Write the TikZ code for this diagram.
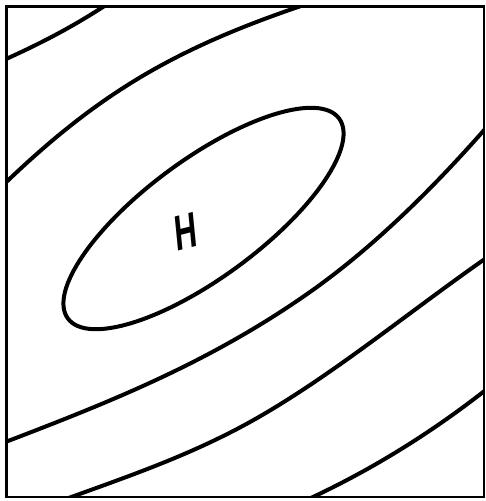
\documentclass[tikz,border=0pt]{standalone}
\usepackage{fontspec}
\setmainfont{Liberation Sans}
\tikzset{contour/.style={line width=4pt,line cap=round,line join=round}}
\begin{document}
\begin{tikzpicture}[x=1pt,y=-1pt]
\useasboundingbox (0,0) rectangle (486,501);
\coordinate (tl) at (6.5,6.5);
\coordinate (br) at (484,497);
\begin{scope}
\clip (tl) rectangle (br);
\draw[contour] (-5,64) .. controls (40,44) and (75,26) .. (115,-1);
\draw[contour] (-5,193) .. controls (100,90) and (180,45) .. (325,-2);
\draw[contour] (492,121) .. controls (434,188) and (375,245) .. (317,287)
  .. controls (210,364) and (102,405) .. (-5,446);
\draw[contour] (492,254) .. controls (411,310) and (331,377) .. (250,422)
  .. controls (185,458) and (120,479) .. (55,503);
\draw[contour] (492,385) .. controls (428,436) and (364,474) .. (300,503);
\end{scope}
\draw[contour,shift={(203.5,218.5)},rotate=36.4] (0,0) ellipse [x radius=168.5pt,y radius=59pt];
\node[font=\bfseries\fontsize{50}{50}\selectfont,xscale=0.62,rotate=9,inner sep=0] (h) at (186,232) {H};
\draw[line width=2.8pt] (tl) rectangle (br);
\end{tikzpicture}
\end{document}
